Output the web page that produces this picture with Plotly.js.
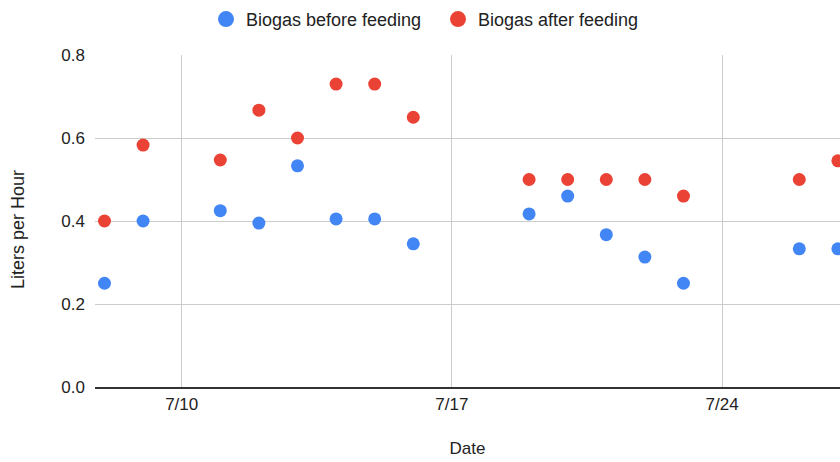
<!DOCTYPE html>
<html>
<head>
<meta charset="utf-8">
<script src="https://cdn.plot.ly/plotly-3.0.1.min.js"></script>
<style>html,body{margin:0;padding:0;background:#fff;}#chart{width:840px;height:462px;}</style>
</head>
<body>
<div id="chart"></div>
<script>
const dates = ['2023-07-08','2023-07-09','2023-07-11','2023-07-12','2023-07-13','2023-07-14','2023-07-15','2023-07-16',
               '2023-07-19','2023-07-20','2023-07-21','2023-07-22','2023-07-23','2023-07-26','2023-07-27'];
const beforeFeeding = [0.25,0.40,0.425,0.395,0.533,0.405,0.405,0.345,0.417,0.46,0.367,0.313,0.25,0.333,0.333];
const afterFeeding  = [0.40,0.583,0.547,0.667,0.60,0.73,0.73,0.65,0.50,0.50,0.50,0.50,0.46,0.50,0.545];
const tickDates = ['2023-07-10','2023-07-17','2023-07-24'];
const tickLabels = ['7/10','7/17','7/24'];
const yTicks = [0,0.2,0.4,0.6,0.8];
const yTickLabels = ['0.0','0.2','0.4','0.6','0.8'];
const seriesNames = ['Biogas before feeding','Biogas after feeding'];
const xTitle = 'Date';
const yTitle = 'Liters per Hour';
const colors = ['#4285F4','#EA4335'];

const font = 'Arial, "Liberation Sans", sans-serif';
const traces = [
  {x: dates, y: beforeFeeding, name: seriesNames[0], type: 'scatter', mode: 'markers',
   marker: {color: colors[0], size: 13}, showlegend: false, hoverinfo: 'x+y'},
  {x: dates, y: afterFeeding, name: seriesNames[1], type: 'scatter', mode: 'markers',
   marker: {color: colors[1], size: 13}, showlegend: false, hoverinfo: 'x+y'},
  {x: [null], y: [null], name: seriesNames[0], type: 'scatter', mode: 'markers',
   marker: {color: colors[0], size: 17}},
  {x: [null], y: [null], name: seriesNames[1], type: 'scatter', mode: 'markers',
   marker: {color: colors[1], size: 17}}
];

const layout = {
  width: 840, height: 462,
  margin: {l: 95, r: 0, t: 55, b: 75},
  paper_bgcolor: '#fff', plot_bgcolor: '#fff',
  font: {family: font, size: 17, color: '#222'},
  showlegend: true,
  legend: {orientation: 'h', x: 0.4604, xanchor: 'center', yref: 'container', y: 0.998, yanchor: 'top',
           font: {size: 18, color: '#222'}, itemsizing: 'trace', entrywidth: 187},
  xaxis: {
    type: 'date',
    range: ['2023-07-07 18:06', '2023-07-27 01:19'],
    tickvals: tickDates, ticktext: tickLabels,
    showgrid: true, gridcolor: '#cccccc', gridwidth: 1,
    showline: true, linecolor: '#333333', linewidth: 2,
    zeroline: false, ticks: '', ticklabelstandoff: 1,
    tickfont: {size: 17, color: '#222'},
    title: {text: xTitle, font: {size: 17, color: '#222'}, standoff: 29},
    automargin: false, fixedrange: true
  },
  yaxis: {
    range: [0, 0.8],
    tickvals: yTicks, ticktext: yTickLabels,
    showgrid: true, gridcolor: '#cccccc', gridwidth: 1,
    zeroline: false, showline: false, ticks: '', ticklabelstandoff: 9,
    tickfont: {size: 17, color: '#222'},
    automargin: false, fixedrange: true
  },
  annotations: [{
    text: yTitle, textangle: -90, xref: 'paper', yref: 'paper',
    x: -0.1034, y: 0.476, xanchor: 'center', yanchor: 'middle',
    showarrow: false, font: {size: 18, color: '#222'}
  }]
};

Plotly.newPlot('chart', traces, layout, {displayModeBar: false, staticPlot: true});
</script>
</body>
</html>
